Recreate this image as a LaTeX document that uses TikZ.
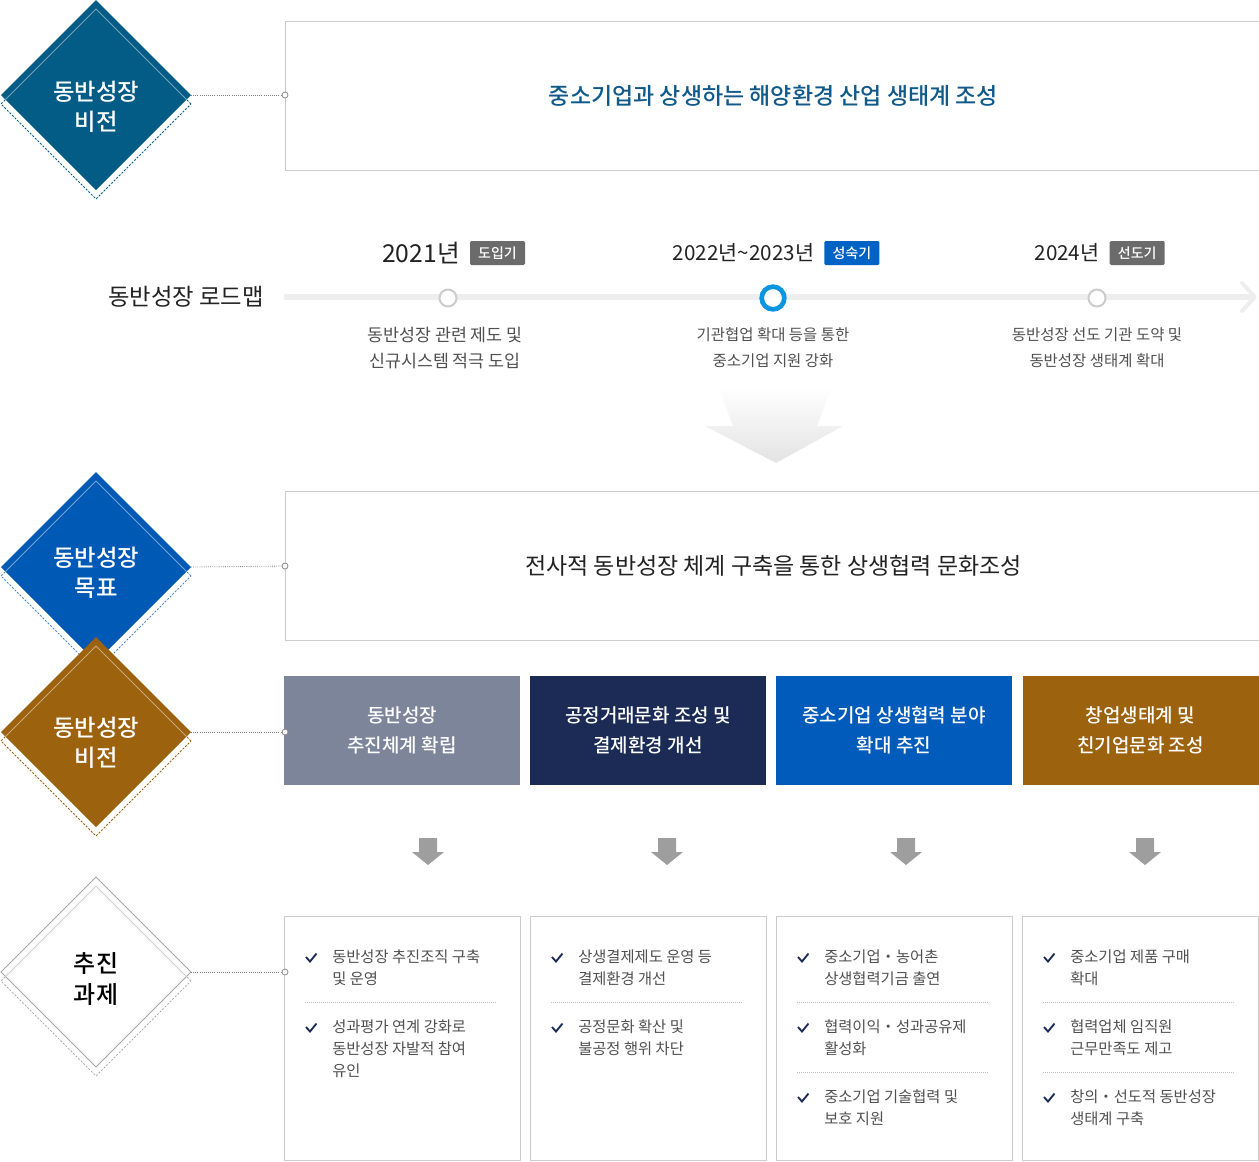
\documentclass[tikz,border=0pt]{standalone}
\usepackage{fontspec}
\setmainfont{Noto Sans CJK KR}
\newfontfamily\medfont{Noto Sans CJK KR Medium}
\usetikzlibrary{shapes.geometric,positioning}

\definecolor{visionblue}{RGB}{2,92,134}
\definecolor{goalblue}{RGB}{0,89,181}
\definecolor{culturebrown}{RGB}{156,98,14}
\definecolor{titleblue}{RGB}{16,90,138}
\definecolor{topicgray}{RGB}{125,133,155}
\definecolor{topicnavy}{RGB}{27,43,85}
\definecolor{topicblue}{RGB}{0,91,187}
\definecolor{taggray}{RGB}{107,107,107}
\definecolor{tagblue}{RGB}{0,98,196}
\definecolor{ringblue}{RGB}{10,149,224}
\definecolor{linegray}{RGB}{238,238,238}
\definecolor{framegray}{RGB}{204,204,204}
\definecolor{textdark}{RGB}{34,34,34}
\definecolor{textmid}{RGB}{80,80,80}

\begin{document}
\begin{tikzpicture}[x=0.75pt,y=-0.75pt,
    badge/.style ={diamond, minimum width=142.5pt, minimum height=142.5pt, inner sep=0pt, outer sep=0pt},
    badgeshade/.style ={badge, draw=#1, line width=0.75pt, dash pattern=on 1.5pt off 1.2pt},
    badgeline/.style ={badge, draw=#1, line width=0.75pt},
    badgetext/.style ={align=center, inner sep=0pt, font=\medfont\fontsize{17.5}{22.5}\selectfont},
    pin/.style ={circle, draw=black!45, fill=white, line width=0.6pt, minimum size=4.5pt, inner sep=0pt},
    link/.style ={draw=black!50, line width=0.6pt, densely dotted},
    framebox/.style ={draw=framegray, line width=0.75pt, minimum width=732.75pt, minimum height=111.75pt, inner sep=0pt},
    year/.style ={inner sep=0pt, text=textdark, font=\fontsize{15.5}{18}\selectfont},
    tag/.style ={inner sep=0pt, outer sep=0pt, minimum width=41.25pt, minimum height=18pt, rounded corners=1pt, text=white, font=\medfont\fontsize{10.5}{12}\selectfont},
    stage/.style ={circle, draw=black!20, fill=white, line width=1.5pt, minimum size=12.75pt, inner sep=0pt},
    desc/.style ={align=center, text=textmid, font=\fontsize{11.6}{19.5}\selectfont},
    topic/.style ={minimum width=177pt, minimum height=81.75pt, inner sep=0pt, align=center, text=white, font=\medfont\fontsize{14.25}{22.5}\selectfont},
    taskbox/.style ={draw=framegray, line width=0.75pt, minimum width=177pt, minimum height=183pt, inner sep=0pt},
    item/.style ={anchor=west, align=left, inner sep=0pt, text=textmid, font=\fontsize{11.5}{16.5}\selectfont},
    sep/.style ={draw=black!25, line width=0.5pt, densely dotted},
    chk/.style ={draw=topicnavy, line width=1.4pt, line join=miter}]
   \useasboundingbox (0,0) rectangle (1259,1161);

   \node[badgeshade=visionblue] (vision-s) at (96,104) {};
   \node[badge, fill=visionblue] (vision) at (96,95) {};
   \node[badgetext, text=white] (vision-t) at (96,107) {동반성장\\비전};
   \node[framebox, text=titleblue, font=\medfont\fontsize{17.25}{18}\selectfont] (vbox) at (773.5,95.5) {중소기업과 상생하는 해양환경 산업 생태계 조성};
   \node[pin] (vpin) at (285,95) {};
   \draw[link] (vision.east) -- (vpin);

   \node[font=\fontsize{17.5}{18}\selectfont, text=textdark] (rmlabel) at (186,297) {동반성장 로드맵};
   \coordinate (rm-start) at (284,297);
   \coordinate (rm-end) at (1255,297);
   \draw[line width=4.5pt, linegray] (rm-start) -- (rm-end);
   \draw[line width=3pt, linegray, line cap=round, line join=round] (1242,283) -- (rm-end) -- (1242,311);

   \node[stage] (s1) at (448,298) {};
   \node[stage, draw=ringblue, line width=3.5pt, minimum size=17pt] (s2) at (773,298) {};
   \node[stage] (s3) at (1097,298) {};

   \node[year, font=\fontsize{18.5}{20}\selectfont] (y1) at (421,253) {2021년};
   \node[tag, fill=taggray, right=7.5pt of y1] (g1) {도입기};
   \node[year] (y2) at (743.5,253) {2022년\textasciitilde 2023년};
   \node[tag, fill=tagblue, right=7.5pt of y2] (g2) {성숙기};
   \node[year] (y3) at (1067,253) {2024년};
   \node[tag, fill=taggray, right=7.5pt of y3] (g3) {선도기};

   \node[desc, font=\fontsize{13}{19.5}\selectfont] (d1) at (445,348) {동반성장 관련 제도 및\\신규시스템 적극 도입};
   \node[desc] (d2) at (773,348) {기관협업 확대 등을 통한\\중소기업 지원 강화};
   \node[desc] (d3) at (1097,348) {동반성장 선도 기관 도약 및\\동반성장 생태계 확대};

   \shade[top color=white, bottom color=black!11] (718,387) -- (832,387) -- (817,426) -- (843,426) -- (776,463) -- (705,426) -- (733,426) -- cycle;

   \node[badgeshade=goalblue!70] (goal-s) at (96,576) {};
   \node[badge, fill=goalblue] (goal) at (96,567) {};
   \node[badgetext, text=white] (goal-t) at (96,573) {동반성장\\목표};
   \node[framebox, text=textdark, font=\fontsize{17.25}{18}\selectfont] (gbox) at (773.5,565.5) {전사적 동반성장 체계 구축을 통한 상생협력 문화조성};
   \node[pin] (gpin) at (285,566) {};
   \draw[link] (goal.east) -- (gpin);

   \node[badgeshade=culturebrown] (culture-s) at (96,741) {};
   \node[badge, fill=culturebrown] (culture) at (96,732) {};
   \node[badgetext, text=white] (culture-t) at (96,743) {동반성장\\비전};

   \node[topic, fill=topicgray] (t1) at (402,730.5) {동반성장\\추진체계 확립};
   \node[topic, fill=topicnavy] (t2) at (648,730.5) {공정거래문화 조성 및\\결제환경 개선};
   \node[topic, fill=topicblue] (t3) at (894,730.5) {중소기업 상생협력 분야\\확대 추진};
   \node[topic, fill=culturebrown] (t4) at (1140.5,730.5) {창업생태계 및\\친기업문화 조성};
   \node[pin] (cpin) at (285,732) {};
   \draw[link] (culture.east) -- (cpin);

   \foreach \x in {428,667,906,1145}
      \fill[black!38] (\x-9,838) -- (\x+9,838) -- (\x+9,852) -- (\x+16,852) -- (\x,865) -- (\x-16,852) -- (\x-9,852) -- cycle;

   \node[badgeshade=black!30] (task-s) at (96,981) {};
   \node[badge, fill=white, draw=black!35, line width=0.75pt] (task) at (96,972) {};

   \foreach \n/\y/\c in {vision/95/visionblue!55!white, goal/567/goalblue!55!white, culture/732/culturebrown!55!white, task/972/black!20} {
      \begin{scope}
         \clip (\n.north) -- (\n.east) -- (\n.south) -- (\n.west) -- cycle;
         \node[badgeline=\c] at (96,\y+9) {};
      \end{scope}
   }
   \node[badgetext, text=black, font=\medfont\fontsize{18}{23}\selectfont] (task-t) at (96,979) {추진\\과제};

   \node[taskbox] (k1) at (402,1038) {};
   \node[taskbox] (k2) at (648,1038) {};
   \node[taskbox] (k3) at (894,1038) {};
   \node[taskbox] (k4) at (1140.5,1038) {};
   \node[pin] (kpin) at (285,972) {};
   \draw[link] (task.east) -- (kpin);

   \node[item] (k1a) at (332,968) {동반성장 추진조직 구축\\및 운영};
   \node[item] (k1b) at (332,1049) {성과평가 연계 강화로\\동반성장 자발적 참여\\유인};
   \node[item] (k2a) at (578,968) {상생결제제도 운영 등\\결제환경 개선};
   \node[item] (k2b) at (578,1038) {공정문화 확산 및\\불공정 행위 차단};
   \node[item] (k3a) at (824,968) {중소기업・농어촌\\상생협력기금 출연};
   \node[item] (k3b) at (824,1038) {협력이익・성과공유제\\활성화};
   \node[item] (k3c) at (824,1108) {중소기업 기술협력 및\\보호 지원};
   \node[item] (k4a) at (1070,968) {중소기업 제품 구매\\확대};
   \node[item] (k4b) at (1070,1038) {협력업체 임직원\\근무만족도 제고};
   \node[item] (k4c) at (1070,1108) {창의・선도적 동반성장\\생태계 구축};

   \foreach \x in {306,552,798,1044}
      \foreach \y in {957,1027}
         \draw[chk] (\x,\y) -- ++(4,4.5) -- ++(6.5,-8);
   \foreach \x in {798,1044}
      \draw[chk] (\x,1097) -- ++(4,4.5) -- ++(6.5,-8);

   \foreach \x in {305,551,797,1043}
      \draw[sep] (\x,1002) -- ++(192,0);
   \foreach \x in {797,1043}
      \draw[sep] (\x,1072) -- ++(192,0);
 \end{tikzpicture}
\end{document}
